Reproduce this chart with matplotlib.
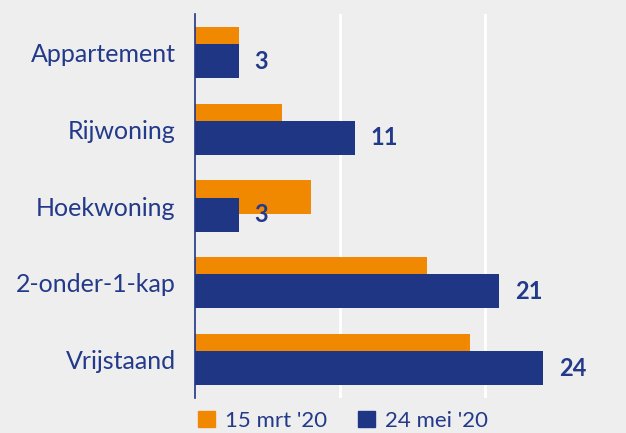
import numpy as np
import matplotlib
matplotlib.use("Agg")
import matplotlib.pyplot as plt
from matplotlib.patches import Patch

plt.rcParams['font.family'] = ['Lato', 'DejaVu Sans']

# data
categories = ['Appartement', 'Rijwoning', 'Hoekwoning', '2-onder-1-kap', 'Vrijstaand']
mrt_15 = [3, 6, 8, 16, 19]
mei_24 = [3, 11, 3, 21, 24]
series_names = ["15 mrt '20", "24 mei '20"]

ORANGE = '#F08900'
NAVY = '#1F3684'
TEXT = '#23398A'
BG = '#EEEEEE'

fig = plt.figure(figsize=(6.26, 4.33), dpi=100, facecolor=BG)
ax = fig.add_axes([195 / 626, 1 - 398 / 433, 435 / 626, 384 / 433], facecolor=BG)

y = np.arange(len(categories))
h = 0.443
off = 0.113
ax.barh(y - off, mrt_15, height=h, color=ORANGE, zorder=2)
ax.barh(y + off, mei_24, height=h, color=NAVY, zorder=3)

# value labels on the navy bars only
for yi, v in zip(y, mei_24):
    ax.text(v + 1.1, yi + off, str(v), va='center', ha='left',
            fontsize=17, fontweight='bold', color=TEXT)

ax.set_xlim(0, 30)
ax.set_ylim(len(categories) - 0.5, -0.5)
ax.set_xticks([10, 20, 30])
ax.xaxis.grid(True, color='white', linewidth=2, zorder=0)
ax.set_axisbelow(True)
ax.tick_params(axis='x', length=0, labelbottom=False)
ax.set_yticks(y)
ax.set_yticklabels(categories, fontsize=18, color=TEXT)
ax.tick_params(axis='y', length=0, pad=14)

for s in ['top', 'right', 'bottom']:
    ax.spines[s].set_visible(False)
ax.spines['left'].set_color(NAVY)
ax.spines['left'].set_linewidth(1.2)
ax.spines['left'].set_zorder(4)

handles = [Patch(color=ORANGE), Patch(color=NAVY)]
leg = fig.legend(handles, series_names, loc='center left',
                 bbox_to_anchor=(198 / 626, 1 - 421 / 433), ncol=2, frameon=False,
                 fontsize=16, handlelength=0.75, handleheight=0.75,
                 handletextpad=0.45, columnspacing=1.4, borderaxespad=0, borderpad=0)
for t in leg.get_texts():
    t.set_color(TEXT)

fig.savefig('out.png', dpi=100, facecolor=BG)
